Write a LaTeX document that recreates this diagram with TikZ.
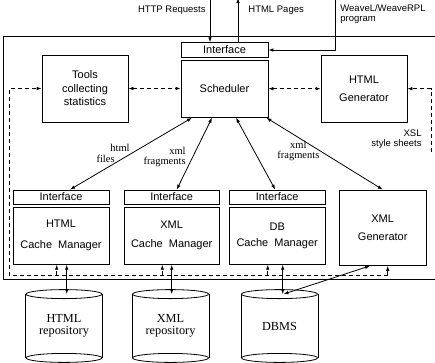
\documentclass[tikz,border=0pt]{standalone}
\usepackage{fontspec}
\setmainfont{Liberation Sans}
\newfontfamily\seriffam{Liberation Serif}
\usetikzlibrary{arrows.meta}
\begin{document}
\begin{tikzpicture}[x=1pt,y=-1pt,line width=0.8pt,
  box/.style={draw,rectangle,inner sep=0pt,align=center,font=\fontsize{11}{13.5}\selectfont},
  sp/.style={font=\fontsize{11}{#1}\selectfont},
  tip/.style={-{Latex[length=5pt,width=3.6pt]}},
  both/.style={{Latex[length=5pt,width=3.6pt]}-{Latex[length=5pt,width=3.6pt]}},
  dsh/.style={dash pattern=on 4pt off 3pt},
  lbl/.style={font=\fontsize{9.5}{10.5}\selectfont,inner sep=0pt},
  slbl/.style={font=\seriffam\fontsize{10.5}{10.5}\selectfont,inner sep=0pt},
  cyl/.style={inner sep=0pt,minimum width=76pt,minimum height=63pt,align=center,font=\seriffam\fontsize{12.3}{11.5}\selectfont}]
\useasboundingbox (0,0) rectangle (435,362);
% outer frame
\draw (3,36.5) rectangle (445,279.5);
% upper row
\node[box,minimum width=86pt,minimum height=67pt] (tools) at (85,88.5) {Tools\\collecting\\statistics};
\node[box,minimum width=87pt,minimum height=14.6pt] (int) at (224.5,50) {Interface};
\node[box,minimum width=87pt,minimum height=57.3pt] (sched) at (224.5,88.7) {Scheduler};
\node[box,sp=18.5,minimum width=86pt,minimum height=67.5pt] (hgen) at (364,88.7) {HTML\\Generator};
% lower row
\node[box,minimum width=96pt,minimum height=14pt] (hi) at (61,197) {Interface};
\node[box,sp=21,minimum width=96pt,minimum height=57pt] (hc) at (61,235.8) {HTML\\Cache\ \ Manager};
\node[box,minimum width=95.3pt,minimum height=14pt] (xi) at (171.7,197) {Interface};
\node[box,sp=19,minimum width=95.3pt,minimum height=57pt] (xc) at (171.7,235.8) {XML\\Cache\ \ Manager};
\node[box,minimum width=95.7pt,minimum height=14pt] (di) at (277.2,197) {Interface};
\node[box,sp=16,minimum width=95.7pt,minimum height=57pt] (dc) at (277.2,235.8) {DB\\Cache\ \ Manager};
\node[box,sp=18.3,minimum width=86.7pt,minimum height=75.5pt] (xg) at (382.7,227.7) {XML\\Generator};
% repositories
\node[cyl] (hrep) at (64,326) {HTML\\repository};
\node[cyl] (xrep) at (170.5,326) {XML\\repository};
\node[cyl] (dbms) at (279.5,326) {DBMS};
\foreach \c in {hrep,xrep,dbms}{
  \draw (\c.north west) -- (\c.south west) (\c.north east) -- (\c.south east);
  \draw (\c.north) ellipse [x radius=38pt,y radius=4.5pt];
  \draw (\c.south) ellipse [x radius=38pt,y radius=4.5pt];
}
% external inputs/outputs
\coordinate (httpsrc) at (210,-2);
\coordinate (pagesdst) at (238,-2);
\coordinate (weavesrc) at (335,-2);
\draw[tip] (httpsrc) -- (httpsrc |- int.north);
\draw[tip] (pagesdst |- int.north) -- (pagesdst);
\draw[tip] (weavesrc) |- (int.east);
\node[lbl,anchor=base east] (httpl) at (206,12.5) {HTTP Requests};
\node[lbl,anchor=base west] (pagesl) at (248,12.5) {HTML Pages};
\node[lbl,anchor=north west,align=left] (weavel) at (340,4) {WeaveL/WeaveRPL\\program};
% dashed links in upper row
\draw[dsh,both] (tools.east) -- (sched.west |- tools.east);
\draw[dsh,both] (sched.east) -- (hgen.west |- sched.east);
% scheduler to lower row
\draw[both] ([xshift=-32.5pt]sched.south) -- ([xshift=9pt]hi.north);
\draw[both] ([xshift=-12.5pt]sched.south) -- ([xshift=5pt]xi.north);
\draw[both] ([xshift=11.5pt]sched.south) -- ([xshift=-2pt]di.north);
\draw[both] ([xshift=-2pt]sched.south east) -- (xg.north);
\node[slbl,anchor=base east] (htmll) at (130,151) {html};
\node[slbl,anchor=base east] (filesl) at (115,162) {files};
\node[slbl,anchor=east,align=right] (xfl) at (186,157) {xml\\fragments};
\node[slbl,anchor=west,align=center] (xfr) at (277,151) {xml\\fragments};
\node[lbl,anchor=north east,align=right] (xsl) at (422,129) {XSL\\style sheets};
% statistics feedback (dashed)
\coordinate (ltop) at (9,88.5);
\coordinate (lbot) at (9,275);
\coordinate (rend) at ([xshift=5pt]xg.south |- lbot);
\draw[dsh,tip] (rend) -- (lbot) -- (ltop) -- (tools.west);
\draw[dsh,tip] ([xshift=-4.3pt]hc.south |- lbot) -- ([xshift=-4.3pt]hc.south);
\draw[dsh,tip] ([xshift=-9.4pt]xc.south |- lbot) -- ([xshift=-9.4pt]xc.south);
\draw[dsh,tip] ([xshift=-9.5pt]dc.south |- lbot) -- ([xshift=-9.5pt]dc.south);
\draw[tip] (rend) -- ([xshift=5pt]xg.south);
% XSL link (dashed)
\coordinate (rtop) at (431,88.7);
\coordinate (rbot) at (431,152);
\draw[dsh,tip] (rbot) -- (rtop) -- (hgen.east);
% repository links
\draw[both] ([xshift=5.7pt]hc.south) -- ([xshift=5.7pt]hc.south |- hrep.north);
\draw[both] (xc.south) -- (xc.south |- xrep.north);
\draw[both] ([xshift=5.5pt]dc.south) -- ([xshift=5.5pt]dc.south |- dbms.north);
\draw[both] ([xshift=-12.7pt]xg.south) -- ([xshift=4pt]dbms.north);
\end{tikzpicture}
\end{document}
